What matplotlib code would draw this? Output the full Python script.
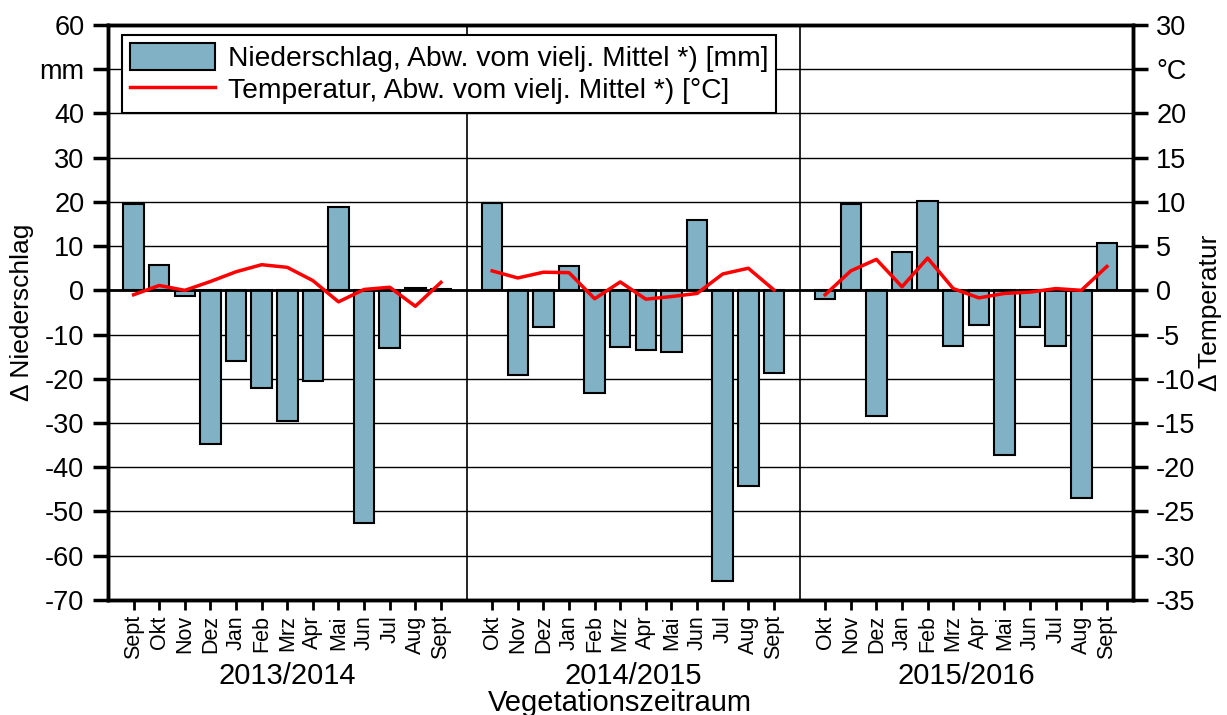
import numpy as np
import matplotlib
matplotlib.use('Agg')
import matplotlib.pyplot as plt

plt.rcParams['font.family'] = ['Liberation Sans', 'DejaVu Sans']

# Vegetationszeiträume
perioden = ['2013/2014', '2014/2015', '2015/2016']
monate_1 = ['Sept', 'Okt', 'Nov', 'Dez', 'Jan', 'Feb', 'Mrz', 'Apr', 'Mai', 'Jun', 'Jul', 'Aug', 'Sept']
monate_2 = ['Okt', 'Nov', 'Dez', 'Jan', 'Feb', 'Mrz', 'Apr', 'Mai', 'Jun', 'Jul', 'Aug', 'Sept']
monate_3 = ['Okt', 'Nov', 'Dez', 'Jan', 'Feb', 'Mrz', 'Apr', 'Mai', 'Jun', 'Jul', 'Aug', 'Sept']

# Niederschlag, Abw. vom vielj. Mittel [mm]
nied_1 = [19.5, 5.8, -1.2, -34.8, -16.0, -22.0, -29.5, -20.5, 18.9, -52.6, -13.0, 0.5, 0.4]
nied_2 = [19.8, -19.2, -8.4, 5.6, -23.3, -12.7, -13.6, -14.0, 16.0, -65.8, -44.3, -18.8]
nied_3 = [-1.9, 19.6, -28.5, 8.6, 20.2, -12.6, -7.9, -37.2, -8.3, -12.6, -46.9, 10.8]

# Temperatur, Abw. vom vielj. Mittel [°C]
temp_1 = [-0.5, 0.55, 0.0, 1.0, 2.1, 2.9, 2.6, 1.1, -1.3, 0.1, 0.35, -1.8, 0.9]
temp_2 = [2.2, 1.4, 2.05, 2.0, -0.95, 0.95, -1.0, -0.7, -0.35, 1.85, 2.5, 0.05]
temp_3 = [-0.5, 2.2, 3.5, 0.4, 3.65, 0.2, -0.85, -0.35, -0.2, 0.2, 0.0, 2.7]

monate = [monate_1, monate_2, monate_3]
nied = [nied_1, nied_2, nied_3]
temp = [temp_1, temp_2, temp_3]

fig = plt.figure(figsize=(12.27, 7.15), dpi=100)
ax = fig.add_axes([0.088, 0.161, 0.835, 0.804])
ax2 = ax.twinx()

barfarbe = '#80b1c4'
start = 0
xticks = []
xlabels = []
mitten = []
trenner = []
for i in range(3):
    x = np.arange(start, start + len(monate[i]))
    b = ax.bar(x, nied[i], width=0.8, color=barfarbe, edgecolor='black', linewidth=1.5, zorder=3)
    l, = ax2.plot(x, temp[i], color='red', linewidth=2.5, zorder=4)
    if i == 0:
        h_bar, h_line = b, l
    xticks += list(x)
    xlabels += monate[i]
    mitten.append((x[0] + x[-1]) / 2)
    start = x[-1] + 2
    if i < 2:
        trenner.append(x[-1] + 1)

for t in trenner:
    ax.axvline(t, color='black', linewidth=1.2, zorder=2)

ax.axhline(0, color='black', linewidth=2, zorder=3.5)
ax.set_xlim(-1, start - 1)
ax.set_ylim(-70, 60)
ax2.set_ylim(-35, 30)

yt = np.arange(-70, 61, 10)
ax.set_yticks(yt)
ax.set_yticklabels(['mm' if v == 50 else str(v) for v in yt])
yt2 = np.arange(-35, 31, 5)
ax2.set_yticks(yt2)
ax2.set_yticklabels(['°C' if v == 25 else str(v) for v in yt2])

ax.yaxis.grid(True, color='black', linewidth=1.0, zorder=0)
ax.set_axisbelow(True)

ax.set_xticks(xticks)
ax.set_xticklabels(xlabels, rotation=90, fontsize=15.5)
ax.tick_params(axis='x', direction='out', length=7, width=2, pad=4)
ax.tick_params(axis='y', direction='out', length=11, width=2.5, labelsize=19.5, pad=6)
ax2.tick_params(axis='y', direction='out', length=11, width=2.5, labelsize=19.5, pad=6)

for a in (ax, ax2):
    for s in a.spines.values():
        s.set_linewidth(2.5)

for m, p in zip(mitten, perioden):
    ax.text(m, -0.133, p, transform=ax.get_xaxis_transform(), ha='center', va='center', fontsize=21)
ax.text(0.5, -0.18, 'Vegetationszeitraum', transform=ax.transAxes, ha='center', va='center', fontsize=21)

ax.set_ylabel('Δ Niederschlag', fontsize=19, labelpad=4)
ax2.set_ylabel('Δ Temperatur', fontsize=19, labelpad=2)

leg = ax.legend([h_bar, h_line],
                ['Niederschlag, Abw. vom vielj. Mittel *) [mm]', 'Temperatur, Abw. vom vielj. Mittel *) [°C]'],
                loc='upper left', bbox_to_anchor=(0.008, 0.993), fontsize=20.3, frameon=True, fancybox=False,
                edgecolor='black', framealpha=1, handlelength=3.0, handleheight=1.1,
                borderpad=0.3, labelspacing=0.1, handletextpad=0.45, borderaxespad=0.2)
leg.get_frame().set_linewidth(1.5)
leg.set_zorder(10)

fig.savefig('out.png', dpi=100)
